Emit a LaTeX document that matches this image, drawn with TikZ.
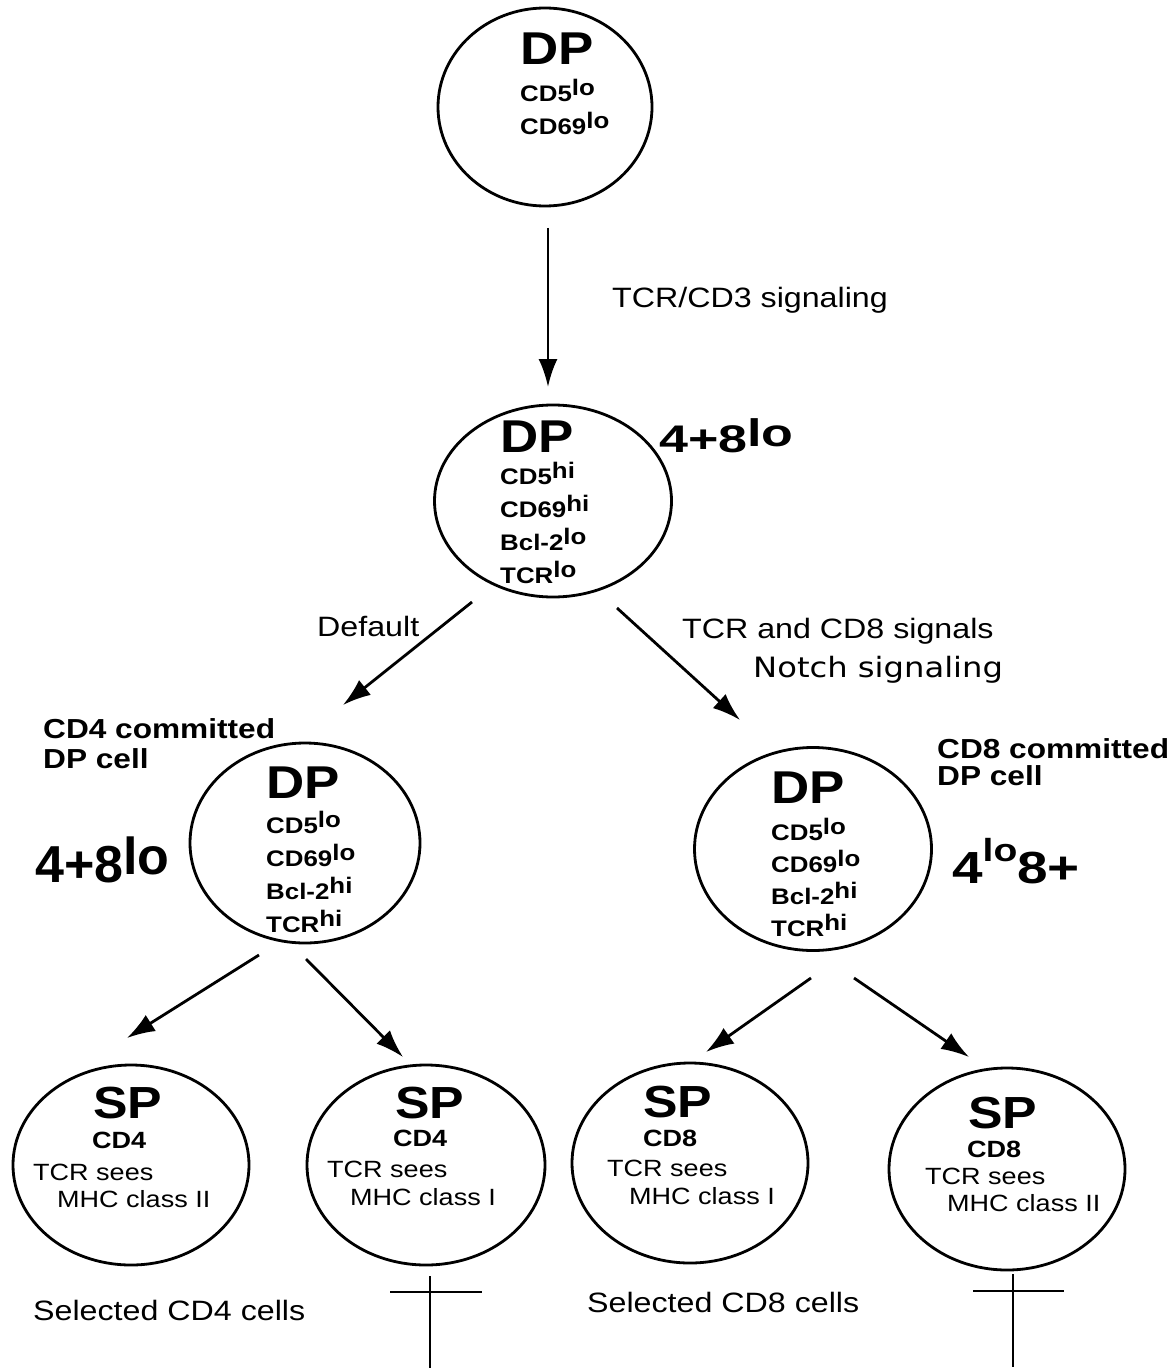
\documentclass[tikz,border=0pt]{standalone}
\usepackage{fontspec}
\usepackage{graphicx}
\setmainfont{Liberation Sans}[FakeStretch=1.15]
\newfontfamily\plainfont{Liberation Sans}
\newfontfamily\notchfont{DejaVu Sans}[FakeStretch=1.15]
\usetikzlibrary{arrows.meta,shapes.geometric}
\newcommand{\lvl}[1]{\raisebox{6pt}{#1}}
\newcommand{\dptitle}[1]{{\fontsize{46}{46}\selectfont #1}}
\newcommand{\sptitle}[1]{{\bfseries\fontsize{45}{45}\selectfont #1}}
\tikzset{
  cell/.style={draw, ellipse, line width=2.8pt, inner sep=0pt},
  cellmark/.style={align=left, anchor=base west, inner sep=0pt, font=\bfseries\fontsize{22.5}{33}\selectfont},
  sptext/.style={align=left, anchor=base west, inner sep=0pt, font=\fontsize{23.5}{29}\selectfont},
  lbl/.style={anchor=base west, inner sep=0pt, font=\fontsize{28}{30}\selectfont},
  boldlbl/.style={align=left, anchor=base west, inner sep=0pt, font=\bfseries\fontsize{27.5}{30}\selectfont},
  ratio/.style={anchor=base west, inner sep=0pt, font=\plainfont\bfseries},
  arrow/.style={-{Latex[length=28pt,width=19pt]}, line width=2.8pt},
  cross/.style={line width=2.8pt}
}

\begin{document}
\begin{tikzpicture}[x=1pt, y=-1pt]
  \useasboundingbox (0,0) rectangle (1173,1372);

  % double positive cells (text nodes sit on the baseline of their last line)
  \node[cell, minimum width=214pt, minimum height=198pt] (dp1) at (545,107) {};
  \node[cellmark] (dp1txt) at (520,135) {\dptitle{DP}\\[4pt]CD5\lvl{lo}\\CD69\lvl{lo}};

  \node[cell, minimum width=237pt, minimum height=192pt] (dp2) at (553,501) {};
  \node[cellmark] (dp2txt) at (500,583) {\dptitle{DP}\\[-1pt]CD5\lvl{hi}\\CD69\lvl{hi}\\Bcl-2\lvl{lo}\\TCR\lvl{lo}};
  \node[ratio] (dp2ratio) at (659,452) {\scalebox{1}[0.74]{\fontsize{52}{52}\selectfont 4+8\raisebox{7pt}{lo}}};

  \node[cell, minimum width=230pt, minimum height=200pt] (dp3) at (305,843) {};
  \node[cellmark] (dp3txt) at (266,932) {\dptitle{DP}\\[2pt]CD5\lvl{lo}\\CD69\lvl{lo}\\Bcl-2\lvl{hi}\\TCR\lvl{hi}};
  \node[boldlbl] (dp3name) at (43,768) {CD4 committed\\DP cell};
  \node[ratio] (dp3ratio) at (35,882) {\fontsize{52}{52}\selectfont 4+8\raisebox{8pt}{lo}};

  \node[cell, minimum width=237pt, minimum height=203pt] (dp4) at (813,849) {};
  \node[cellmark] (dp4txt) at (771,936) {\dptitle{DP}\\[4pt]CD5\lvl{lo}\\[-1pt]CD69\lvl{lo}\\[-1pt]Bcl-2\lvl{hi}\\[-1pt]TCR\lvl{hi}};
  \node[boldlbl] (dp4name) at (937,785) {CD8 committed\\[-3pt]DP cell};
  \node[ratio] (dp4ratio) at (952,883) {\scalebox{1.22}[1]{\fontsize{45}{45}\selectfont 4\raisebox{22pt}{\fontsize{32}{32}\selectfont lo}8+}};

  % single positive cells
  \node[cell, minimum width=236pt, minimum height=200pt] (sp1) at (131,1165) {};
  \node[sptext] (sp1txt) at (33,1207) {\hspace*{60pt}\sptitle{SP}\\[1pt]\hspace*{59pt}\textbf{CD4}\\[3pt]TCR sees\\[-2pt]\hspace*{24pt}MHC class II};

  \node[cell, minimum width=238pt, minimum height=200pt] (sp2) at (426,1165) {};
  \node[sptext] (sp2txt) at (327,1205) {\hspace*{68pt}\sptitle{SP}\\[-1pt]\hspace*{66pt}\textbf{CD4}\\[2pt]TCR sees\\[-1pt]\hspace*{23pt}MHC class I};

  \node[cell, minimum width=236pt, minimum height=200pt] (sp3) at (690,1163) {};
  \node[sptext] (sp3txt) at (607,1204) {\hspace*{36pt}\sptitle{SP}\\[0pt]\hspace*{36pt}\textbf{CD8}\\[1pt]TCR sees\\[-1pt]\hspace*{22pt}MHC class I};

  \node[cell, minimum width=236pt, minimum height=202pt] (sp4) at (1007,1169) {};
  \node[sptext] (sp4txt) at (925,1211) {\hspace*{43pt}\sptitle{SP}\\[0pt]\hspace*{42pt}\textbf{CD8}\\[-2pt]TCR sees\\[-2pt]\hspace*{22pt}MHC class II};

  % labels
  \node[lbl] (tcrcd3) at (612,307) {TCR/CD3 signaling};
  \node[lbl] (default) at (317,636) {Default};
  \node[lbl] (cd8sig) at (682,638) {TCR and CD8 signals};
  \node[lbl, font=\notchfont\fontsize{28}{30}\selectfont] (notch) at (753,677) {Notch signaling};
  \node[lbl] (sel4) at (33,1320) {Selected CD4 cells};
  \node[lbl] (sel8) at (587,1312) {Selected CD8 cells};

  % arrows
  \coordinate (s0) at (548,228);  \coordinate (e0) at (548,387);
  \coordinate (s1) at (472,602);  \coordinate (e1) at (343,705);
  \coordinate (s2) at (617,608);  \coordinate (e2) at (740,720);
  \coordinate (s3) at (259,955);  \coordinate (e3) at (127,1038);
  \coordinate (s4) at (306,959);  \coordinate (e4) at (403,1057);
  \coordinate (s5) at (811,978);  \coordinate (e5) at (706,1052);
  \coordinate (s6) at (854,978);  \coordinate (e6) at (969,1057);
  \foreach \i in {0,...,6}
    \draw[arrow] (s\i) -- (e\i);

  % deleted cells
  \draw[cross] (430,1276) -- (430,1368) (390,1292) -- (482,1292);
  \draw[cross] (1013,1274) -- (1013,1367) (973,1291) -- (1064,1291);
\end{tikzpicture}
\end{document}
